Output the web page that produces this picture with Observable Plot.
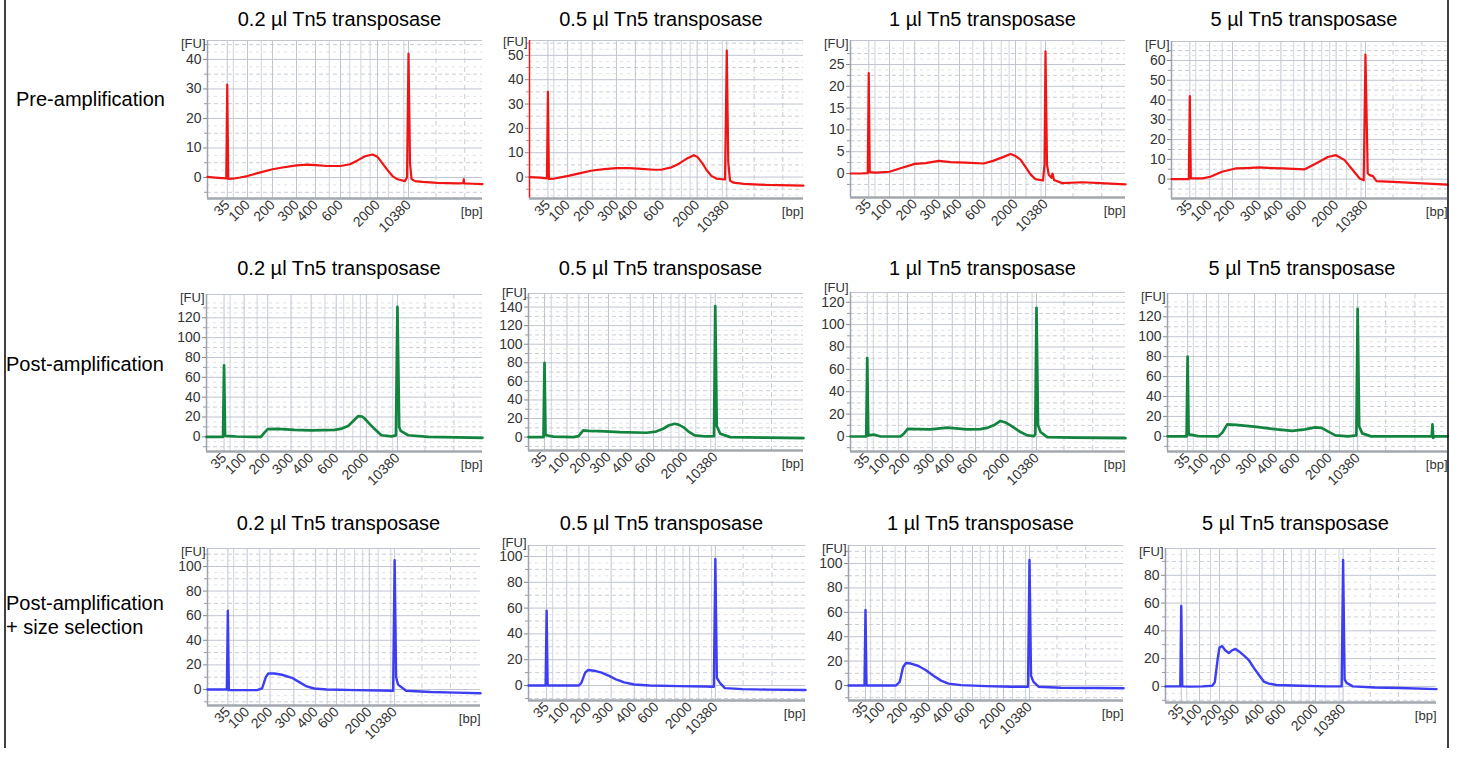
<!DOCTYPE html>
<html>
<head>
<meta charset="utf-8">
<script src="https://cdn.jsdelivr.net/npm/d3@7"></script>
<script src="https://cdn.jsdelivr.net/npm/@observablehq/plot@0.6"></script>
<style>
  body { margin: 0; background: #fff; }
  #root { position: relative; width: 1460px; height: 769px; overflow: hidden; font-family: "Liberation Sans", Arial, sans-serif; }
  #root > svg, #root > div { position: absolute; }
</style>
</head>
<body>
<div id="root"></div>
<script>
// ---------------- DATA ----------------
const titles = ["0.2 µl Tn5 transposase", "0.5 µl Tn5 transposase", "1 µl Tn5 transposase", "5 µl Tn5 transposase"];
const rowLabels = [["Pre-amplification"], ["Post-amplification"], ["Post-amplification", "+ size selection"]];
const ladderLabels = ["35", "100", "200", "300", "400", "600", "2000", "10380"];
const rowColors = ["#f01414", "#13843f", "#3d3df2"];
const rowWidths = [2.2, 2.7, 2.4];

// y tick labels [FU]
const yTicksPre02 = [0, 10, 20, 30, 40];
const yTicksPre05 = [0, 10, 20, 30, 40, 50];
const yTicksPre1  = [0, 5, 10, 15, 20, 25];
const yTicksPre5  = [0, 10, 20, 30, 40, 50, 60];
const yTicksPost02 = [0, 20, 40, 60, 80, 100, 120];
const yTicksPost05 = [0, 20, 40, 60, 80, 100, 120, 140];
const yTicksPost1  = [0, 20, 40, 60, 80, 100, 120];
const yTicksPost5  = [0, 20, 40, 60, 80, 100, 120];
const yTicksSel02 = [0, 20, 40, 60, 80, 100];
const yTicksSel05 = [0, 20, 40, 60, 80, 100];
const yTicksSel1  = [0, 20, 40, 60, 80, 100];
const yTicksSel5  = [0, 20, 40, 60, 80];

// ladder peak migration times (relative units) for the labelled sizes
const ladPre02 = [7.9, 16, 26, 35.6, 43.2, 53.2, 68, 80.4];
const ladPre05 = [7.4, 15.3, 25.2, 34.9, 42.5, 53.2, 67.3, 79.2];
const ladPre1  = [7.3, 15.6, 25.7, 35.3, 43.6, 53.3, 66, 78];
const ladPre5  = [7.3, 15.2, 24.3, 34.9, 43.6, 52.9, 65.6, 77.3];
const ladPost02 = [7, 15, 24.4, 33.7, 41.7, 51.7, 63.7, 76.1];
const ladPost05 = [6.4, 15.4, 24, 32, 40.7, 50, 62.7, 74.7];
const ladPost1  = [6.7, 14.7, 22.8, 32.7, 40.7, 50, 62.7, 74.4];
const ladPost5  = [7.9, 15.3, 24, 34.2, 42.4, 51.1, 63.7, 74.7];
const ladSel02 = [8.2, 16, 25.2, 34.8, 43.6, 52, 65.2, 75.4];
const ladSel05 = [7.2, 15.2, 24, 32.8, 42, 50.8, 64, 74.2];
const ladSel1  = [6.8, 13.6, 22.8, 32, 40.8, 49.6, 62, 72.4];
const ladSel5  = [6.4, 13.8, 21.9, 29.1, 39.2, 47.9, 60.9, 72.1];

// electropherogram traces: [time, FU]
const pre02 = [[0,0.2],[3,0],[7.5,-0.3],[7.9,31.5],[8.3,-0.5],[10,-0.4],[13,0],[16,0.5],[20,1.5],[26,2.8],[30,3.4],[35.6,4.1],[40,4.4],[43.2,4.2],[48,3.9],[53.2,3.9],[57,4.5],[60,5.8],[63,7.2],[66,7.8],[68,7],[70,4.8],[72,2.5],[74,0.5],[76,-0.6],[79,-1.2],[79.8,0],[80.4,42],[81,5],[81.6,-0.5],[83,-1.2],[86,-1.5],[92,-1.8],[100,-2],[102.3,-1.9],[102.5,-0.6],[102.7,-2],[106,-2.1],[110,-2.2]];
const pre05 = [[0,0],[4,-0.2],[7,-0.5],[7.4,35],[7.8,-0.8],[10,-0.6],[13,0],[16,0.6],[20,1.5],[25.2,2.7],[30,3.3],[34.9,3.7],[40,3.7],[45,3.4],[50,3],[53.2,3.1],[57,4],[60,5.5],[63,7.5],[66,9],[67.5,8.2],[69.5,5.5],[71,3],[73,0.5],[75,-0.6],[78.5,-1],[79.2,52],[79.8,6],[80.5,-1.5],[82,-2.3],[86,-2.8],[95,-3.2],[110,-3.5]];
const pre1 = [[0,0],[4,0],[6.9,0.1],[7.3,23],[7.7,0.3],[10,0.2],[15.6,0.4],[20,1.2],[25.7,2.2],[30,2.4],[35.3,2.9],[40,2.6],[46,2.5],[53.3,2.3],[57,2.9],[60.7,3.7],[64,4.5],[66,4],[68,3.2],[70,1.5],[72,-0.2],[74,-1.3],[77,-1.6],[77.6,2],[78,28],[78.6,2],[79.3,-0.3],[80.4,-1],[80.8,0],[81.4,-1.5],[84.7,-2.2],[92.7,-2],[100,-2.2],[110,-2.5]];
const pre5 = [[0,0],[4,0],[6.9,0],[7.3,42],[7.7,0.4],[12.3,0.4],[15.5,1.2],[20.1,3.7],[25.5,5.4],[30,5.6],[34.9,5.9],[40,5.6],[44.3,5.4],[52.9,4.9],[57.6,7.9],[62.3,11.2],[65.6,12.1],[69,9.6],[72.3,4.5],[75,0.3],[76.6,-0.6],[77.3,63],[78.2,3],[79,2],[80.3,1.5],[81.7,-1],[86,-1.3],[92.3,-1.6],[100,-2.2],[110,-2.8]];
const post02 = [[0,0],[5,0],[6.6,0],[7,72],[7.4,1],[9,0.8],[12,0.3],[18,0],[21.7,0],[23,4],[24.4,7.8],[28.4,8],[35,7],[41.7,6.5],[51,7],[53.5,8],[56.4,10.8],[58.5,16],[60.4,20.8],[62,20.5],[63,18.5],[65,13],[67,7.8],[69.7,1.6],[73.7,0.5],[75.5,1.5],[76.1,131],[76.8,10],[77.4,6],[80.4,1.6],[88.4,0],[100,-0.5],[110,-1]];
const post05 = [[0,0],[5,0],[6,0],[6.4,80],[6.8,2],[7.7,1.8],[10,0.5],[18,0],[20,1],[21.9,7.2],[24,6.8],[28.5,6.5],[36.5,5.4],[47.2,4.7],[51,6],[53.9,9],[56,12.5],[58.5,14.4],[60,13.5],[61.9,10.8],[64,6],[66.5,1.8],[71.2,0.7],[74.2,1],[74.7,141],[75.3,12],[76.7,3.6],[80.7,0],[95,-0.5],[110,-1]];
const post1 = [[0,0],[5,0],[6.3,0],[6.7,70],[7.1,1],[9.3,1.8],[12,0],[20,0],[21.5,3],[22.9,6.9],[27,6.6],[32,6.3],[38.7,8],[46.7,6.3],[52,6.6],[55,8],[57.3,10],[60,13.9],[62,12.5],[64,10],[68,4],[70.7,1],[73.3,0.3],[73.9,2],[74.4,115],[75,10],[76,4],[78.7,-0.6],[89.3,-1],[100,-1.2],[110,-1.5]];
const post5 = [[0,0],[5,0],[7.5,0],[7.9,80],[8.3,2],[9.5,1.5],[12,0.3],[20,0],[21.6,4],[23.5,12],[27,11.5],[35,9.5],[43,7],[49,5.5],[54,7],[58,9],[60.5,8.5],[63,5],[66,1],[71,0],[74.2,1],[74.7,128],[75.3,10],[76.5,3],[80,0],[95,0],[103.8,0],[104.1,12],[104.4,-1.5],[105,0],[110,0]];
const sel02 = [[0,0],[5,0],[7.8,0],[8.2,64],[8.6,-0.5],[12,-0.5],[20,-0.5],[22,1],[23.5,10],[24.5,13],[27,13],[30,12],[34,9.5],[37,6],[40,2.5],[43,0.8],[48,0],[60,-0.5],[70,-0.8],[74.8,-1],[75.4,105],[76,10],[76.8,4],[80,-1],[90,-2],[100,-2.5],[110,-3]];
const sel05 = [[0,0],[5,0],[6.8,0],[7.2,58],[7.6,0],[12,0],[20,0],[21,2],[22.5,10],[23.6,12],[26,11.5],[29,10],[32,7.5],[35,4.5],[38,2.5],[42,0.8],[48,0],[60,-0.5],[70,-0.8],[73.6,-1],[74.2,98],[74.8,6],[76,2],[78,-2],[85,-2.8],[95,-3.2],[110,-3.5]];
const sel1 = [[0,0],[5,0],[6.4,0],[6.8,62],[7.2,0],[12,0],[19,0],[20.5,3],[21.8,15],[23,18.5],[25,18],[28,16],[31,12.5],[34,8],[37,4],[40,1.5],[45,0.3],[55,-0.5],[65,-1],[71.8,-1],[72.4,103],[73,8],[74,3],[76,-1],[85,-1.8],[100,-2],[110,-2.2]];
const sel5 = [[0,0],[4,0],[6,0],[6.4,58],[6.8,0],[10,-0.2],[15,0],[19,0.5],[20,3],[21.2,20],[21.9,28],[23,29],[24.2,26],[25.7,24],[27,26],[28.4,27],[30,25],[32,22],[33.8,19],[36,13],[38,8],[39.9,3.5],[42,2],[45,1],[55,0.5],[65,0],[71.5,0],[72.1,91],[72.7,5],[73.5,2.5],[76,0],[85,-0.8],[95,-1.2],[110,-2]];

// ---------------- LAYOUT ----------------
const panels = [
  {row:0, col:0, curve:pre02,  ladder:ladPre02,  yTicks:yTicksPre02,  yDomain:[-7.1,46.4],   box:[207,40,482,198]},
  {row:0, col:1, curve:pre05,  ladder:ladPre05,  yTicks:yTicksPre05,  yDomain:[-8.8,56.1],   box:[529,40,803,198], axisColor:"#f01414"},
  {row:0, col:2, curve:pre1,   ladder:ladPre1,   yTicks:yTicksPre1,   yDomain:[-5.5,30.5],   box:[850,40,1125,197]},
  {row:0, col:3, curve:pre5,   ladder:ladPre5,   yTicks:yTicksPre5,   yDomain:[-9.8,69.6],   box:[1171,41,1447,198]},
  {row:1, col:0, curve:post02, ladder:ladPost02, yTicks:yTicksPost02, yDomain:[-14.8,143.5], box:[206,294,482,451]},
  {row:1, col:1, curve:post05, ladder:ladPost05, yTicks:yTicksPost05, yDomain:[-14.4,154.6], box:[528,293,803,450]},
  {row:1, col:2, curve:post1,  ladder:ladPost1,  yTicks:yTicksPost1,  yDomain:[-13.4,128.7], box:[850,292,1125,451]},
  {row:1, col:3, curve:post5,  ladder:ladPost5,  yTicks:yTicksPost5,  yDomain:[-15.2,143.4], box:[1167,293,1447,451]},
  {row:2, col:0, curve:sel02,  ladder:ladSel02,  yTicks:yTicksSel02,  yDomain:[-13,114.6],   box:[207,548,480,705]},
  {row:2, col:1, curve:sel05,  ladder:ladSel05,  yTicks:yTicksSel05,  yDomain:[-11.6,108.5], box:[528,545,805,700]},
  {row:2, col:2, curve:sel1,   ladder:ladSel1,   yTicks:yTicksSel1,   yDomain:[-12.3,114.8], box:[848,545,1123,700]},
  {row:2, col:3, curve:sel5,   ladder:ladSel5,   yTicks:yTicksSel5,   yDomain:[-11.6,99.3],  box:[1165,548,1436,702]},
];
const titleBaselines = [26, 275, 530];
const FONT = '"Liberation Sans", Arial, sans-serif';
const mL = 52, mR = 14, mT = 24, mB = 52;
const root = document.getElementById("root");
const lerp = (a, b, f) => a + (b - a) * f;

panels.forEach(p => {
  const [L, T, R, B] = p.box;
  const W = R - L, H = B - T;
  const [ya, yb] = p.yDomain;
  const step = p.yTicks[1] - p.yTicks[0];
  const half = d3.range(p.yTicks[0] - step / 2, yb, step).filter(v => v >= ya);
  const quarter = d3.range(p.yTicks[0] - step * 0.75, yb, step / 2).filter(v => v >= ya);
  const lad = p.ladder;
  const extra = [lerp(lad[0], lad[1], 0.3), lerp(lad[1], lad[2], 0.55), lerp(lad[4], lad[5], 0.55),
                 lerp(lad[5], lad[6], 0.25), lerp(lad[5], lad[6], 0.55), lerp(lad[5], lad[6], 0.8),
                 lerp(lad[6], lad[7], 0.35), lerp(lad[6], lad[7], 0.85)];
  const dashedV = [lad[7] + 11, lad[7] + 22.5].filter(v => v < 110);
  const labelOf = new Map(lad.map((t, i) => [t, ladderLabels[i]]));
  const color = rowColors[p.row];
  // keep the [FU] unit label clear of the top tick label
  const topTickPx = (yb - d3.max(p.yTicks)) * H / (yb - ya);
  const fuDy = Math.min(3, topTickPx - 14);
  const svg = Plot.plot({
    width: W + mL + mR, height: H + mT + mB,
    marginLeft: mL, marginRight: mR, marginTop: mT, marginBottom: mB,
    style: {fontFamily: FONT, fontSize: "14px", color: "#333", background: "none", overflow: "visible"},
    x: {domain: [0, 110]},
    y: {domain: [ya, yb]},
    marks: [
      Plot.ruleY(quarter, {stroke: "#e0e3e9", strokeDasharray: "3,4"}),
      Plot.ruleY(half, {stroke: "#c9cdd6", strokeDasharray: "4,3"}),
      Plot.ruleX(dashedV, {stroke: "#c9cdd6", strokeDasharray: "5,4"}),
      Plot.ruleX(extra, {stroke: "#d0d4dc"}),
      Plot.ruleX(lad, {stroke: "#c0c5d0"}),
      Plot.ruleY(p.yTicks, {stroke: "#c0c5d0"}),
      Plot.ruleY([yb], {stroke: "#c0c5d0"}),
      Plot.ruleX([0], {stroke: p.axisColor || "#9ea3ad", strokeWidth: 1.5}),
      Plot.ruleY([ya], {stroke: "#a3a7ae", strokeWidth: 2.5}),
      Plot.axisY({ticks: p.yTicks, tickSize: 4, tickPadding: 2, stroke: "#888", fontSize: 14, label: null}),
      Plot.axisY({ticks: half, tickSize: 3, stroke: "#999", tickFormat: () => "", label: null}),
      Plot.axisX({ticks: lad, tickSize: 0, tickPadding: 4, tickRotate: -45, tickFormat: d => labelOf.get(d), fontSize: 14, label: null}),
      Plot.line(p.curve, {x: d => d[0], y: d => d[1], stroke: color, strokeWidth: rowWidths[p.row], strokeLinejoin: "round"}),
      Plot.text(["[FU]"], {text: d => d, frameAnchor: "top-left", textAnchor: "end", lineAnchor: "middle", dx: -2, dy: fuDy, fontSize: 13}),
      Plot.text(["[bp]"], {text: d => d, frameAnchor: "bottom-right", textAnchor: "end", lineAnchor: "middle", dy: 13, fontSize: 13})
    ]
  });
  svg.style.position = "absolute";
  svg.style.left = (L - mL) + "px";
  svg.style.top = (T - mT) + "px";
  root.appendChild(svg);
});

// overlay: titles, row labels, border lines
const ov = d3.select(root).append("svg")
  .attr("width", 1460).attr("height", 769)
  .style("left", "0px").style("top", "0px").style("position", "absolute")
  .style("font-family", FONT);
panels.forEach(p => {
  const [L, T, R, B] = p.box;
  ov.append("text").attr("x", (L + R) / 2 - 5).attr("y", titleBaselines[p.row])
    .attr("text-anchor", "middle").attr("font-size", 20).attr("fill", "#000").text(titles[p.col]);
});
const rowLabelPos = [[16, [106]], [6, [371]], [6, [610, 634]]];
rowLabels.forEach((lines, r) => {
  lines.forEach((t, i) => {
    ov.append("text").attr("x", rowLabelPos[r][0]).attr("y", rowLabelPos[r][1][i])
      .attr("font-size", 20).attr("fill", "#000").text(t);
  });
});
ov.append("line").attr("x1", 5).attr("x2", 5).attr("y1", 0).attr("y2", 748).attr("stroke", "#000").attr("stroke-width", 1.5);
ov.append("line").attr("x1", 1448).attr("x2", 1448).attr("y1", 0).attr("y2", 748).attr("stroke", "#000").attr("stroke-width", 1.5);
</script>
</body>
</html>
